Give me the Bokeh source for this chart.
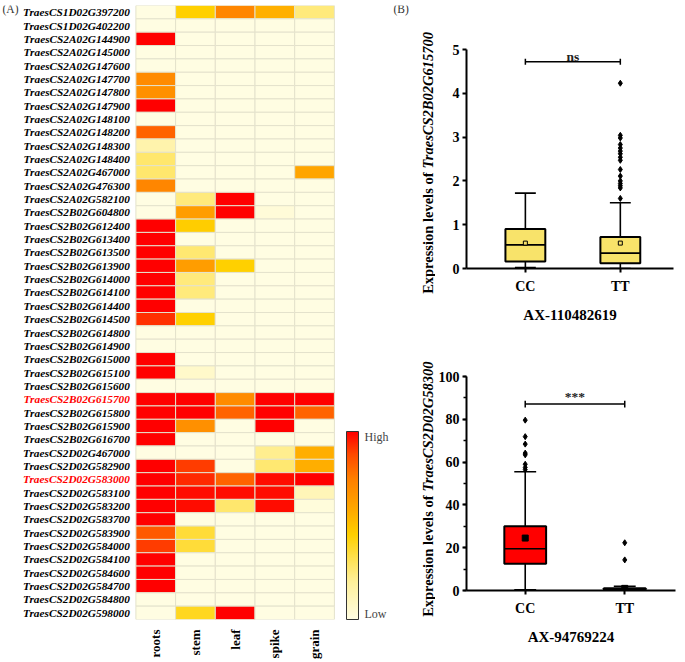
import math
from bokeh.plotting import figure
from bokeh.models import (ColumnDataSource, LinearColorMapper, ColorBar, FixedTicker,
                          Label, Range1d, FactorRange, SingleIntervalTicker)
from bokeh.layouts import row, column
from bokeh.transform import dodge
from bokeh.core.properties import value
from bokeh.embed import file_html
from bokeh.resources import INLINE

# ---------------- data: heatmap (A) ----------------
genes = [
    "TraesCS1D02G397200", "TraesCS1D02G402200", "TraesCS2A02G144900", "TraesCS2A02G145000",
    "TraesCS2A02G147600", "TraesCS2A02G147700", "TraesCS2A02G147800", "TraesCS2A02G147900",
    "TraesCS2A02G148100", "TraesCS2A02G148200", "TraesCS2A02G148300", "TraesCS2A02G148400",
    "TraesCS2A02G467000", "TraesCS2A02G476300", "TraesCS2A02G582100", "TraesCS2B02G604800",
    "TraesCS2B02G612400", "TraesCS2B02G613400", "TraesCS2B02G613500", "TraesCS2B02G613900",
    "TraesCS2B02G614000", "TraesCS2B02G614100", "TraesCS2B02G614400", "TraesCS2B02G614500",
    "TraesCS2B02G614800", "TraesCS2B02G614900", "TraesCS2B02G615000", "TraesCS2B02G615100",
    "TraesCS2B02G615600", "TraesCS2B02G615700", "TraesCS2B02G615800", "TraesCS2B02G615900",
    "TraesCS2B02G616700", "TraesCS2D02G467000", "TraesCS2D02G582900", "TraesCS2D02G583000",
    "TraesCS2D02G583100", "TraesCS2D02G583200", "TraesCS2D02G583700", "TraesCS2D02G583900",
    "TraesCS2D02G584000", "TraesCS2D02G584100", "TraesCS2D02G584600", "TraesCS2D02G584700",
    "TraesCS2D02G584800", "TraesCS2D02G598000",
]
highlight_genes = ["TraesCS2B02G615700", "TraesCS2D02G583000"]
tissues = ["roots", "stem", "leaf", "spike", "grain"]

roots = [0, 0, 1, 0, 0, .70, .68, 1, 0, .82, .15, .28, .28, .72, 0, 0,
         1, 1, 1, 1, 1, 1, 1, .92, 0, 0, 1, 1, 0, 1, 1, 1,
         1, 0, 1, 1, 1, 1, 1, .84, .90, 1, 1, 1, 0, 0]
stem = [.45, 0, 0, 0, 0, 0, 0, 0, 0, 0, 0, 0, 0, 0, .25, .63,
        .46, 0, .27, .63, .25, .25, 0, .45, 0, 0, 0, .07, 0, 1, 1, .68,
        0, 0, .90, .93, .98, .98, 0, .36, .36, 0, 0, 0, 0, .40]
leaf = [.72, 0, 0, 0, 0, 0, 0, 0, 0, 0, 0, 0, 0, 0, 1, 1,
        0, 0, 0, .45, 0, 0, 0, 0, 0, 0, 0, 0, 0, .70, .82, 0,
        0, 0, 0, .82, .98, .28, 0, 0, 0, 0, 0, 0, 0, 1]
spike = [.56, 0, 0, 0, 0, 0, 0, 0, 0, 0, 0, 0, 0, 0, 0, .03,
         0, 0, 0, 0, 0, 0, 0, 0, 0, 0, 0, 0, 0, 1, 1, 1,
         0, .22, .27, .98, .98, .98, 0, 0, 0, 0, 0, 0, 0, 0]
grain = [.25, 0, 0, 0, 0, 0, 0, 0, 0, 0, 0, 0, .60, 0, 0, 0,
         0, 0, 0, 0, 0, 0, 0, 0, 0, 0, 0, 0, 0, 1, .82, 0,
         0, .57, .57, 1, .12, .02, 0, 0, 0, 0, 0, 0, 0, 0]

# ---------------- data: box plots (B) ----------------
groups = ["CC", "TT"]
top_lower = [0.02, 0.0]
top_q1 = [0.16, 0.12]
top_median = [0.54, 0.35]
top_q3 = [0.90, 0.72]
top_upper = [1.72, 1.50]
top_mean = [0.58, 0.58]
top_out_tt = [1.60, 1.84, 1.89, 1.94, 2.00, 2.11, 2.26, 2.47, 2.54, 2.62, 2.68,
              2.75, 2.83, 2.98, 3.04, 4.23]

bot_lower = [0.3, 0.0]
bot_q1 = [12.5, 0.3]
bot_median = [19.5, 0.6]
bot_q3 = [30.0, 1.0]
bot_upper = [55.5, 2.0]
bot_mean = [24.5, 1.0]
bot_out_cc = [56.5, 57.5, 59.0, 63.4, 64.2, 68.4, 71.9, 79.6]
bot_out_tt = [14.3, 22.3]

FONT = "Liberation Serif"

# ---------------- palette ----------------
anchors = [(0.0, "#FFFDE2"), (0.2, "#FFF09A"), (0.3, "#FFE460"), (0.45, "#FFD000"),
           (0.6, "#FFA500"), (0.75, "#FF7F00"), (0.88, "#FF4A00"), (1.0, "#FF0000")]


def h2r(h):
    return tuple(int(h[i:i + 2], 16) for i in (1, 3, 5))


palette = []
for i in range(256):
    t = i / 255
    for (a, ca), (b, cb) in zip(anchors[:-1], anchors[1:]):
        if a <= t <= b:
            f = (t - a) / (b - a)
            r1, r2 = h2r(ca), h2r(cb)
            palette.append("#%02x%02x%02x" % tuple(round(r1[k] + (r2[k] - r1[k]) * f) for k in range(3)))
            break

mapper = LinearColorMapper(palette=palette, low=0, high=1)

# ---------------- layout constants ----------------
TOTAL_W, TOTAL_H = 677, 654
LEFT_FW = 435          # frame of the left figure (heatmap + colour bar + B titles)
HM_LEFT, COLW = 135.4, 39.7
HM_TOP, HM_FH = 5, 614
RIGHT_W = TOTAL_W - LEFT_FW

# ---------------- heatmap figure ----------------
cols = [roots, stem, leaf, spike, grain]
xs, ys, vs = [], [], []
for gi, g in enumerate(genes):
    for ti, t in enumerate(tissues):
        xs.append(ti)
        ys.append(g)
        vs.append(cols[ti][gi])
hm_src = ColumnDataSource(dict(x=xs, gene=ys, val=vs))

ph = figure(x_range=Range1d(-0.5 - HM_LEFT / COLW, -0.5 + (LEFT_FW - HM_LEFT) / COLW),
            y_range=FactorRange(factors=genes[::-1]),
            frame_width=LEFT_FW, frame_height=HM_FH, min_border_left=0, min_border_right=0,
            min_border_top=HM_TOP, min_border_bottom=TOTAL_H - HM_TOP - HM_FH,
            output_backend="svg", toolbar_location=None)
ph.rect(x="x", y="gene", width=1, height=1, source=hm_src,
        fill_color={"field": "val", "transform": mapper}, line_color="#E4E2CC", line_width=1)
lab_src = ColumnDataSource(dict(
    gene=genes, x=[-0.5] * len(genes),
    color=["#FF0000" if g in highlight_genes else "black" for g in genes]))
ph.text(x="x", y="gene", text="gene", source=lab_src, x_offset=-6, text_align="right",
        text_baseline="middle", text_color="color", text_font=value(FONT),
        text_font_style="bold italic", text_font_size="11.3px")
ph.outline_line_color = None
ph.grid.grid_line_color = None
ph.yaxis.visible = False
ph.xaxis.ticker = FixedTicker(ticks=list(range(len(tissues))))
ph.xaxis.major_label_overrides = {i: t for i, t in enumerate(tissues)}
ph.xaxis.axis_line_color = None
ph.xaxis.major_tick_line_color = None
ph.xaxis.minor_tick_line_color = None
ph.xaxis.major_label_text_font = FONT
ph.xaxis.major_label_text_color = "black"
ph.xaxis.major_label_text_font_style = "bold"
ph.xaxis.major_label_text_font_size = "13px"
ph.xaxis.major_label_orientation = math.pi / 2
ph.xaxis.major_label_standoff = 4
ph.add_layout(Label(x=2, y=HM_FH - 3, x_units="screen", y_units="screen", text="(A)",
                    text_font=FONT, text_font_size="11.5px", text_baseline="middle",
                    text_color="#333333"))

cb = ColorBar(color_mapper=mapper, width=12, height=188, location=(346, 0), padding=0,
              ticker=FixedTicker(ticks=[0.03, 0.97]),
              major_label_overrides={0.03: "Low", 0.97: "High"},
              major_tick_line_color=None, bar_line_color="#333333", bar_line_width=1,
              border_line_color=None, background_fill_color=None,
              major_label_text_font=FONT, major_label_text_font_size="12px",
              major_label_text_color="#444444", label_standoff=6)
ph.add_layout(cb, "center")

# titles of panel B (drawn inside the left figure's frame)
ph.add_layout(Label(x=393, y=HM_FH - 3, x_units="screen", y_units="screen", text="(B)",
                    text_font=FONT, text_font_size="11.5px", text_baseline="middle",
                    text_color="#333333"))


def ytitle(gene_lab, split_y):
    ph.add_layout(Label(x=427, y=split_y - 2, x_units="screen", y_units="screen",
                        text="Expression levels of", angle=math.pi / 2,
                        text_align="right", text_baseline="middle", text_font=FONT,
                        text_font_style="bold", text_font_size="14.5px", text_color="black"))
    ph.add_layout(Label(x=427, y=split_y + 2, x_units="screen", y_units="screen",
                        text=gene_lab, angle=math.pi / 2,
                        text_align="left", text_baseline="middle", text_font=FONT,
                        text_font_style="bold italic", text_font_size="14.5px", text_color="black"))


ytitle("TraesCS2B02G615700", 449)
ytitle("TraesCS2D02G58300", 126)


# ---------------- box plots ----------------
def box_fig(fig_h, frame_w, frame_h, top, xr, ymax, interval, nminor,
            lower, q1, med, q3, upper, mean, outs, fill, mean_fill, mean_size,
            xlabel, sig_y, sig_tick, sig_text, sig_pos):
    p = figure(x_range=Range1d(*xr), y_range=Range1d(0, ymax),
               frame_width=frame_w, frame_height=frame_h,
               min_border_left=27, min_border_right=RIGHT_W - 27 - frame_w,
               min_border_top=top, min_border_bottom=fig_h - top - frame_h,
               output_backend="svg", toolbar_location=None)
    p.outline_line_color = None
    p.grid.grid_line_color = None
    xpos = list(range(len(groups)))
    src = ColumnDataSource(dict(x=xpos, lower=lower, q1=q1, med=med, q3=q3, upper=upper, mean=mean))
    bw, cw = 0.42, 0.22
    p.segment(x0="x", y0="q3", x1="x", y1="upper", source=src, line_color="black", line_width=1.6)
    p.segment(x0="x", y0="lower", x1="x", y1="q1", source=src, line_color="black", line_width=1.6)
    p.segment(x0=dodge("x", -cw / 2), y0="upper", x1=dodge("x", cw / 2), y1="upper", source=src,
              line_color="black", line_width=1.6)
    p.segment(x0=dodge("x", -cw / 2), y0="lower", x1=dodge("x", cw / 2), y1="lower", source=src,
              line_color="black", line_width=1.6)
    p.vbar(x="x", bottom="q1", top="q3", width=bw, source=src, fill_color=fill,
           line_color="black", line_width=2)
    p.segment(x0=dodge("x", -bw / 2), y0="med", x1=dodge("x", bw / 2), y1="med", source=src,
              line_color="black", line_width=1.6)
    p.scatter(x="x", y="mean", source=src, marker="square", size=mean_size,
              fill_color=mean_fill, line_color="black", line_width=1)
    ox, oy = [], []
    for gi, arr in enumerate(outs):
        ox += [gi] * len(arr)
        oy += arr
    p.scatter(x=ox, y=oy, marker="diamond", size=6, fill_color="black", line_color="black")
    # significance bar
    p.segment(x0=[0], y0=[sig_y], x1=[1], y1=[sig_y], line_color="black", line_width=1.5)
    p.segment(x0=[0, 1], y0=[sig_y - sig_tick] * 2, x1=[0, 1], y1=[sig_y + sig_tick] * 2,
              line_color="black", line_width=1.5)
    p.add_layout(Label(x=0.5, y=sig_pos, text=sig_text, text_align="center",
                       text_baseline="middle", text_font=FONT, text_font_style="bold",
                       text_font_size="13.5px", text_color="#222222"))
    # axes
    p.xaxis.ticker = FixedTicker(ticks=xpos)
    p.xaxis.major_label_overrides = {i: g for i, g in enumerate(groups)}
    p.yaxis.ticker = SingleIntervalTicker(interval=interval, num_minor_ticks=nminor)
    for ax in (p.xaxis, p.yaxis):
        ax.axis_line_width = 2
        ax.axis_line_color = "black"
        ax.major_tick_line_width = 2
        ax.major_tick_line_color = "black"
        ax.major_tick_in = 0
        ax.major_tick_out = 4
        ax.minor_tick_in = 0
        ax.minor_tick_out = 3
        ax.minor_tick_line_width = 1.5
        ax.major_label_text_font = FONT
        ax.major_label_text_font_style = "bold"
        ax.major_label_text_font_size = "14px"
        ax.major_label_text_color = "black"
    p.xaxis.minor_tick_line_color = None
    p.xaxis.major_label_standoff = 6
    p.yaxis.major_label_standoff = 3
    if nminor == 0:
        p.yaxis.minor_tick_line_color = None
    p.xaxis.axis_label = xlabel
    p.xaxis.axis_label_text_font = FONT
    p.xaxis.axis_label_text_font_style = "bold"
    p.xaxis.axis_label_text_font_size = "15px"
    p.xaxis.axis_label_text_color = "black"
    p.xaxis.axis_label_standoff = 10
    return p


pt = box_fig(326, 207, 219, 49, (-0.62, 1.56), 5, 1, 0,
             top_lower, top_q1, top_median, top_q3, top_upper, top_mean,
             [[], top_out_tt], "#F8E36A", "#F8E36A", 4,
             "AX-110482619", 4.72, 0.07, "ns", 4.85)
pb = box_fig(328, 209, 214, 50, (-0.59, 1.51), 100, 20, 2,
             bot_lower, bot_q1, bot_median, bot_q3, bot_upper, bot_mean,
             [bot_out_cc, bot_out_tt], "#FF0000", "black", 6,
             "AX-94769224", 87.1, 1.6, "***", 90.5)

layout = row(ph, column(pt, pb))
open("out.html", "w").write(file_html(layout, INLINE))
